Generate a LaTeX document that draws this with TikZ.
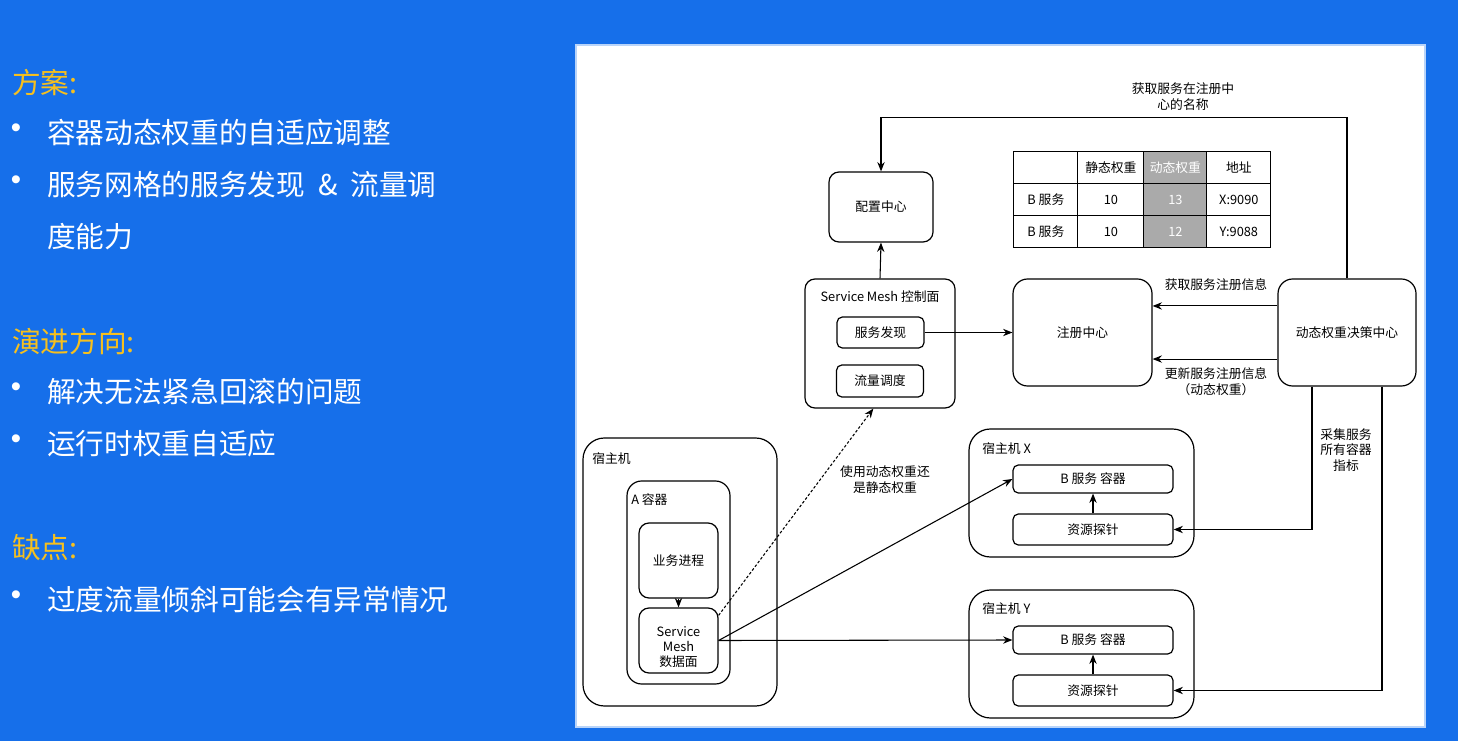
\documentclass[tikz,border=0pt]{standalone}
\usepackage{fontspec}
\setmainfont{Noto Sans CJK SC}
\newfontfamily\bulletfont{Liberation Sans}
\usetikzlibrary{positioning,arrows.meta,matrix}

\definecolor{slideblue}{RGB}{22,111,234}
\definecolor{headyellow}{RGB}{246,192,30}
\definecolor{cellgray}{RGB}{170,170,170}

\begin{document}
\begin{tikzpicture}[
x=0.75pt, y=-0.75pt,
sz/.style 2 args={minimum width=#1*0.75pt, minimum height=#2*0.75pt},
box/.style={rectangle, draw=black, line width=0.9pt, rounded corners=7.5pt, inner sep=0pt, align=center, font=\fontsize{9.6}{12}\selectfont},
bigbox/.style={box, rounded corners=11pt},
hostbox/.style={box, rounded corners=16pt},
smallbox/.style={box, rounded corners=4pt},
lbl/.style={align=center, inner sep=0pt, font=\fontsize{9.6}{12}\selectfont},
title/.style={lbl, anchor=west},
arr/.style={-{Stealth[length=7pt,width=5.5pt]}, line width=0.8pt},
heading/.style={anchor=west, inner sep=0pt, text=headyellow, font=\fontsize{21.5}{26}\selectfont},
item/.style={anchor=west, inner sep=0pt, text=white, font=\fontsize{21.5}{26}\selectfont},
dot/.style={inner sep=0pt, text=white, font=\bulletfont\fontsize{22}{22}\selectfont},
]
%Background
\useasboundingbox (0,0) rectangle (1458,741);
\fill[slideblue] (0,0) rectangle (1458,741);
\filldraw[fill=white, draw=slideblue!30, line width=1pt] (576,45) rectangle (1425,727);

%Left text
\node[heading] (plan)    at (12,83)  {方案:};
\node[item]    (plan1)   at (47,133) {容器动态权重的自适应调整};
\node[item]    (plan2)   at (47,185) {服务网格的服务发现\hspace{0.45em}\&\hspace{0.45em}流量调};
\node[item]    (plan2b)  at (47,237) {度能力};
\node[heading] (trend)   at (12,342) {演进方向:};
\node[item]    (trend1)  at (47,392) {解决无法紧急回滚的问题};
\node[item]    (trend2)  at (47,444) {运行时权重自适应};
\node[heading] (cons)    at (12,548) {缺点:};
\node[item]    (cons1)   at (47,600) {过度流量倾斜可能会有异常情况};
\foreach \y/\n in {133/1,185/2,392/3,444/4,600/5}
  \node[dot] (dot\n) at (16,\y-2) {•};

%Nodes
\node[box, sz={104}{70}]       (cfg)  at (881,207)     {配置中心};
\node[box, sz={150}{129}]      (ctrl) at (880,343.5)   {};
\node[lbl]                     (ctrltitle) at (880,297) {Service Mesh 控制面};
\node[smallbox, sz={87}{31}]   (disc) at (880.5,332.5) {服务发现};
\node[smallbox, sz={87}{32}]   (flow) at (880,381)     {流量调度};
\node[bigbox, sz={139}{107}]   (reg)  at (1082.5,332.5) {注册中心};
\node[bigbox, sz={138}{107}]   (dec)  at (1347,332.5)  {动态权重决策中心};

\node[hostbox, sz={194}{268}]  (hostA) at (680,572)    {};
\node[title]                   (hostAtitle) at (592,459) {宿主机};
\node[bigbox, sz={103}{203}]   (ctrA) at (678.5,582.5) {};
\node[title]                   (ctrAtitle) at (631,500) {A 容器};
\node[box, sz={79}{75}]        (biz)  at (678.5,560.5) {业务进程};
\node[box, sz={79}{65}, font=\fontsize{9.6}{11.3}\selectfont] (dp) at (678.5,640.5) {\rule{0pt}{17pt}Service\\Mesh\\数据面};

\node[hostbox, sz={225}{128}]  (hostX) at (1081.5,493) {};
\node[title]                   (hostXtitle) at (982,449) {宿主机 X};
\node[smallbox, sz={160}{28}]  (bX)   at (1093,479)    {B 服务 容器};
\node[smallbox, sz={160}{31}]  (pX)   at (1093,529.5)  {资源探针};

\node[hostbox, sz={225}{128}]  (hostY) at (1081.5,654) {};
\node[title]                   (hostYtitle) at (982,609) {宿主机 Y};
\node[smallbox, sz={160}{28}]  (bY)   at (1093,640)    {B 服务 容器};
\node[smallbox, sz={160}{31}]  (pY)   at (1093,690.5)  {资源探针};

%Table
\matrix (tbl) [matrix of nodes, anchor=north west, inner sep=0pt,
  column sep=-0.9pt, row sep=-0.9pt, nodes in empty cells,
  nodes={draw, anchor=center, line width=0.9pt, minimum height=32*0.75pt, inner sep=0pt, font=\fontsize{9.6}{12}\selectfont},
  column 1/.style={nodes={minimum width=64*0.75pt}},
  column 2/.style={nodes={minimum width=66*0.75pt}},
  column 3/.style={nodes={minimum width=63*0.75pt, fill=cellgray, text=white}},
  column 4/.style={nodes={minimum width=64*0.75pt}},
] at (1013,151) {
         & 静态权重 & 动态权重 & 地址 \\
  B 服务 & 10       & 13       & X:9090 \\
  B 服务 & 10       & 12       & Y:9088 \\
};

%Labels
\node[lbl] (namelbl)  at (1183,97)  {获取服务在注册中\\心的名称};
\node[lbl] (getlbl)   at (1216,285) {获取服务注册信息};
\node[lbl] (updlbl)   at (1216,382) {更新服务注册信息\\（动态权重）};
\node[lbl, font=\fontsize{9.6}{11.6}\selectfont] (metlbl) at (1346,450) {采集服务\\所有容器\\指标};
\node[lbl] (weightlbl) at (885,480) {使用动态权重还\\是静态权重};

%Lines
\draw[arr] (ctrl.north) -- (cfg.south);
\draw[arr] (dec.north) -- ++(0,-161) -| (cfg.north);
\draw[arr] (disc.east) -- (disc.east -| reg.west);
\draw[arr] ([yshift=19.9pt]dec.west) -- ([yshift=19.9pt]reg.east);
\draw[arr] ([yshift=-19.9pt]dec.west) -- ([yshift=-19.9pt]reg.east);
\draw[arr] ([xshift=-26.25pt]dec.south) |- (pX.east);
\draw[arr] ([xshift=26.25pt]dec.south) |- (pY.east);
\draw[arr] (pX.north) -- (bX.south);
\draw[arr] (pY.north) -- (bY.south);
\draw[arr] (biz.south) -- (dp.north);
\draw[arr, dash pattern=on 2pt off 1.5pt] ([yshift=-6pt]dp.north east) -- ([xshift=-5pt]ctrl.south);
\draw[arr] (dp.east) -- (bX.west);
\draw[arr] (dp.east) -- (bY.west);
\end{tikzpicture}
\end{document}
